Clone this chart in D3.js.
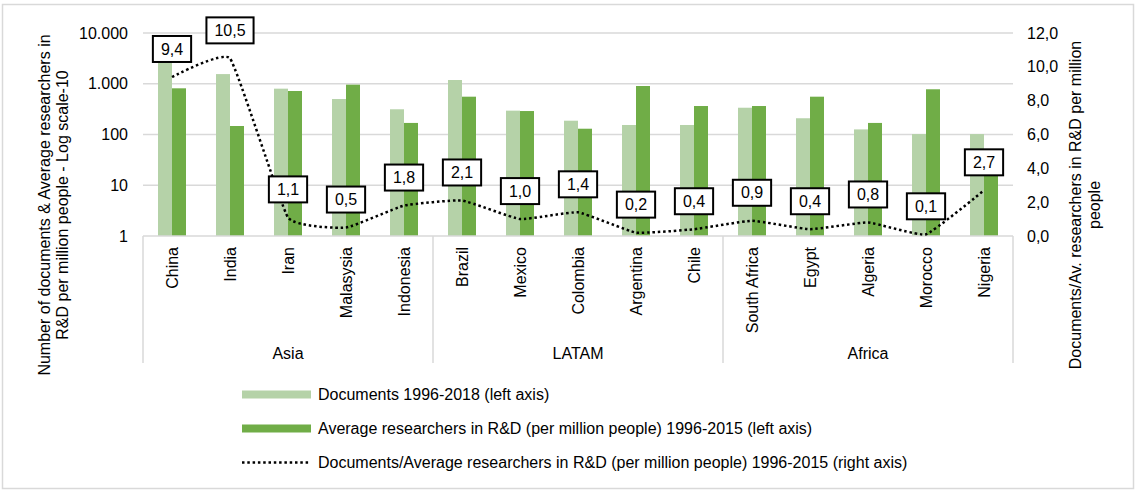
<!DOCTYPE html>
<html>
<head>
<meta charset="utf-8">
<script src="https://cdn.jsdelivr.net/npm/d3@7"></script>
<style>
  html, body { margin: 0; padding: 0; background: #fff; }
  svg { display: block; font-family: "Liberation Sans", Arial, sans-serif; }
</style>
</head>
<body>
<svg id="chart" width="1136" height="491"></svg>
<script>
// ---- data ----
const categories = ["China","India","Iran","Malasysia","Indonesia","Brazil","Mexico","Colombia","Argentina","Chile","South Africa","Egypt","Algeria","Morocco","Nigeria"];
const regions = ["Asia","Asia","Asia","Asia","Asia","LATAM","LATAM","LATAM","LATAM","LATAM","Africa","Africa","Africa","Africa","Africa"];
const groupNames = ["Asia","LATAM","Africa"];
const documents = [7640, 1550, 800, 500, 314, 1185, 295, 187, 154, 154, 337, 209, 126, 102, 102];
const researchers = [813, 147, 720, 960, 169, 556, 290, 130, 903, 364, 364, 556, 169, 778, 38];
const ratio = [9.4, 10.5, 1.1, 0.5, 1.8, 2.1, 1.0, 1.4, 0.2, 0.4, 0.9, 0.4, 0.8, 0.1, 2.7];
const leftTicks = [1, 10, 100, 1000, 10000];
const rightTicks = [0, 2, 4, 6, 8, 10, 12];
const seriesNames = [
  "Documents 1996-2018 (left axis)",
  "Average researchers in R&D (per million people) 1996-2015 (left axis)",
  "Documents/Average researchers in R&D (per million people) 1996-2015 (right axis)"
];
const leftTitle = ["Number of documents & Average researchers in", "R&D per million people - Log scale-10"];
const rightTitle = ["Documents/Av. researchers in R&D per million", "people"];

// ---- layout ----
const svg = d3.select("#chart");
const FONT = 16;
const colLight = "#b5d2a8", colDark = "#70ad47", gridCol = "#d9d9d9";
const plot = { left: 143, right: 1013, top: 33, bottom: 236 };

const locale = d3.formatLocale({ decimal: ",", thousands: ".", grouping: [3], currency: ["", ""] });
const fmtLeft = locale.format(",d");
const fmtRight = locale.format(".1f");

const x0 = d3.scaleBand().domain(categories).range([plot.left, plot.right]).paddingInner(0).paddingOuter(0);
const x1 = d3.scaleBand().domain(["doc", "res"]).range([x0.bandwidth() / 2 - 14, x0.bandwidth() / 2 + 14]);
const yL = d3.scaleLog().domain([1, 10000]).range([plot.bottom, plot.top]);
const yR = d3.scaleLinear().domain([0, 12]).range([plot.bottom, plot.top]);

// outer border
svg.append("rect").attr("x", 2.5).attr("y", 4.5).attr("width", 1131).attr("height", 484)
  .attr("fill", "#fff").attr("stroke", gridCol).attr("stroke-width", 1.5);

// gridlines
svg.append("g").selectAll("line").data(leftTicks.filter(d => d > 1)).join("line")
  .attr("x1", plot.left).attr("x2", plot.right)
  .attr("y1", d => yL(d)).attr("y2", d => yL(d))
  .attr("stroke", gridCol).attr("stroke-width", 1.5);

// left axis labels
const axL = svg.append("g").attr("transform", `translate(${plot.left},0)`)
  .call(d3.axisLeft(yL).tickValues(leftTicks).tickFormat(fmtLeft).tickSize(0).tickPadding(15));
axL.select(".domain").remove();
axL.selectAll("text").attr("font-size", FONT).attr("fill", "#000").attr("font-family", "Liberation Sans, Arial, sans-serif");

// right axis labels
const axR = svg.append("g").attr("transform", `translate(${plot.right},0)`)
  .call(d3.axisRight(yR).tickValues(rightTicks).tickFormat(fmtRight).tickSize(0).tickPadding(14));
axR.select(".domain").remove();
axR.selectAll("text").attr("font-size", FONT).attr("fill", "#000").attr("font-family", "Liberation Sans, Arial, sans-serif");

// bars
const gBars = svg.append("g");
categories.forEach((c, i) => {
  gBars.append("rect")
    .attr("x", x0(c) + x1("doc")).attr("width", x1.bandwidth())
    .attr("y", yL(documents[i])).attr("height", yL(1) - yL(documents[i]))
    .attr("fill", colLight);
  gBars.append("rect")
    .attr("x", x0(c) + x1("res")).attr("width", x1.bandwidth())
    .attr("y", yL(researchers[i])).attr("height", yL(1) - yL(researchers[i]))
    .attr("fill", colDark);
});

// category axis
svg.append("line").attr("x1", plot.left).attr("x2", plot.right)
  .attr("y1", plot.bottom).attr("y2", plot.bottom)
  .attr("stroke", gridCol).attr("stroke-width", 1.5);

const groupBounds = [];
groupNames.forEach(g => {
  const idx = regions.map((r, i) => r === g ? i : -1).filter(i => i >= 0);
  groupBounds.push({ name: g, x0: x0(categories[idx[0]]), x1: x0(categories[idx[idx.length - 1]]) + x0.bandwidth() });
});
const sepXs = [groupBounds[0].x0].concat(groupBounds.map(d => d.x1));
svg.append("g").selectAll("line").data(sepXs).join("line")
  .attr("x1", d => d).attr("x2", d => d).attr("y1", plot.bottom).attr("y2", 363)
  .attr("stroke", gridCol).attr("stroke-width", 1.5);

svg.append("g").selectAll("text").data(categories).join("text")
  .attr("transform", d => `translate(${x0(d) + x0.bandwidth() / 2},247) rotate(-90)`)
  .attr("text-anchor", "end").attr("dy", "0.35em")
  .attr("font-size", FONT).text(d => d);

svg.append("g").selectAll("text").data(groupBounds).join("text")
  .attr("x", d => (d.x0 + d.x1) / 2).attr("y", 359)
  .attr("text-anchor", "middle").attr("font-size", FONT).text(d => d.name);

// ratio line
const pts = categories.map((c, i) => [x0(c) + x0.bandwidth() / 2, yR(ratio[i])]);
svg.append("path").datum(pts)
  .attr("d", d3.line().curve(d3.curveCardinal.tension(0.65)))
  .attr("fill", "none").attr("stroke", "#000").attr("stroke-width", 2.5)
  .attr("stroke-dasharray", "2.5 2.8");

// data labels
const gLab = svg.append("g");
categories.forEach((c, i) => {
  const cx = pts[i][0], cy = pts[i][1] - 28;
  const txt = fmtRight(ratio[i]);
  const t = gLab.append("text").attr("x", cx).attr("y", cy).attr("dy", "0.35em")
    .attr("text-anchor", "middle").attr("font-size", FONT).text(txt);
  const w = t.node().getComputedTextLength() + 16;
  gLab.insert("rect", "text:last-child")
    .attr("x", cx - w / 2).attr("y", cy - 13).attr("width", w).attr("height", 26)
    .attr("fill", "#fff").attr("stroke", "#000").attr("stroke-width", 2);
  t.raise();
});

// axis titles
leftTitle.forEach((s, k) => {
  svg.append("text").attr("transform", `translate(${44 + k * 18},205) rotate(-90)`)
    .attr("text-anchor", "middle").attr("dy", "0.35em").attr("font-size", FONT).text(s);
});
rightTitle.forEach((s, k) => {
  svg.append("text").attr("transform", `translate(${1075 + k * 19},205) rotate(-90)`)
    .attr("text-anchor", "middle").attr("dy", "0.35em").attr("font-size", FONT).text(s);
});

// legend
const legY = [394.5, 428.5, 462.5];
const lg = svg.append("g");
lg.append("rect").attr("x", 242).attr("y", legY[0] - 4).attr("width", 69).attr("height", 8).attr("fill", colLight);
lg.append("rect").attr("x", 242).attr("y", legY[1] - 4).attr("width", 69).attr("height", 8).attr("fill", colDark);
lg.append("line").attr("x1", 242).attr("x2", 310).attr("y1", legY[2]).attr("y2", legY[2])
  .attr("stroke", "#000").attr("stroke-width", 2.5).attr("stroke-dasharray", "2.5 2.8");
seriesNames.forEach((s, k) => {
  lg.append("text").attr("x", 318).attr("y", legY[k]).attr("dy", "0.35em")
    .attr("font-size", FONT).text(s);
});
</script>
</body>
</html>
